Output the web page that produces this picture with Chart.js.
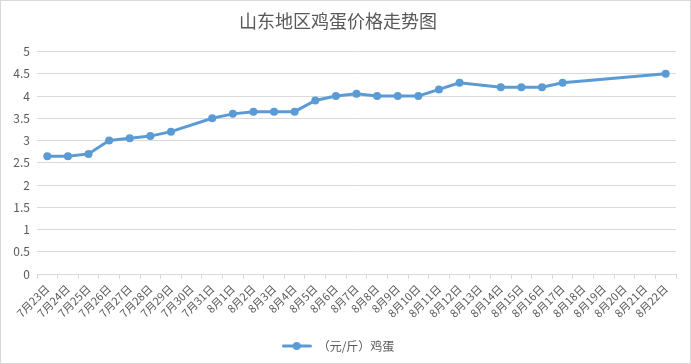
<!DOCTYPE html>
<html>
<head>
<meta charset="utf-8">
<script src="https://cdn.jsdelivr.net/npm/chart.js@4/dist/chart.umd.min.js"></script>
<style>
html,body{margin:0;padding:0;background:#fff;}
#wrap{width:691px;height:364px;position:relative;}
</style>
</head>
<body>
<div id="wrap"><canvas id="c" width="691" height="364"></canvas></div>
<script>
const chartTitle = '山东地区鸡蛋价格走势图';
const seriesName = '（元/斤）鸡蛋';
const categories = ['7月23日','7月24日','7月25日','7月26日','7月27日','7月28日','7月29日','7月30日','7月31日',
  '8月1日','8月2日','8月3日','8月4日','8月5日','8月6日','8月7日','8月8日','8月9日','8月10日','8月11日',
  '8月12日','8月13日','8月14日','8月15日','8月16日','8月17日','8月18日','8月19日','8月20日','8月21日','8月22日'];
const eggPrices = [2.65,2.65,2.7,3.0,3.05,3.1,3.2,null,3.5,
  3.6,3.65,3.65,3.65,3.9,4.0,4.05,4.0,4.0,4.0,4.15,
  4.3,null,4.2,4.2,4.2,4.3,null,null,null,null,4.5];
const yTicks = [0,0.5,1,1.5,2,2.5,3,3.5,4,4.5,5];

const BLUE = '#5b9bd5';
const TEXT = '#595959';
const GRID = '#d9d9d9';
const FONT = '"Noto Sans CJK SC", "Microsoft YaHei", sans-serif';

// legend marker: line with dot
const mk = document.createElement('canvas');
mk.width = 30; mk.height = 10;
(function(){
  const g = mk.getContext('2d');
  g.strokeStyle = BLUE; g.lineWidth = 3; g.lineCap = 'round';
  g.beginPath(); g.moveTo(1.5,5); g.lineTo(28.5,5); g.stroke();
  g.fillStyle = BLUE; g.beginPath(); g.arc(15,5,4,0,Math.PI*2); g.fill();
})();

const borderPlugin = {
  id: 'outerBorder',
  afterDraw(chart){
    const ctx = chart.ctx;
    ctx.save();
    ctx.strokeStyle = GRID; ctx.lineWidth = 1;
    ctx.strokeRect(0.5,0.5,chart.width-1,chart.height-1);
    ctx.restore();
  }
};

new Chart(document.getElementById('c'), {
  type: 'line',
  data: {
    labels: categories,
    datasets: [{
      label: seriesName,
      data: eggPrices,
      borderColor: BLUE,
      backgroundColor: BLUE,
      borderWidth: 3,
      pointRadius: 4,
      pointHoverRadius: 4,
      pointBackgroundColor: BLUE,
      pointBorderColor: BLUE,
      pointBorderWidth: 0,
      spanGaps: true,
      tension: 0
    }]
  },
  options: {
    responsive: false,
    animation: false,
    devicePixelRatio: 1,
    layout: { padding: { left: 0, right: 15, top: 0, bottom: 2 } },
    plugins: {
      title: {
        display: true, text: chartTitle, color: TEXT,
        font: { family: FONT, size: 18, weight: 'normal' },
        padding: { top: 10, bottom: 20 }
      },
      legend: {
        display: true, position: 'bottom',
        labels: {
          color: TEXT, font: { family: FONT, size: 12 },
          usePointStyle: true, pointStyle: mk, pointStyleWidth: 30, padding: 10
        }
      },
      tooltip: { enabled: false }
    },
    scales: {
      x: {
        type: 'category',
        offset: true,
        grid: { display: true, offset: true, drawOnChartArea: false, drawTicks: true, tickLength: 5, color: GRID },
        border: { display: true, color: GRID },
        ticks: { color: TEXT, font: { family: FONT, size: 11 }, maxRotation: 45, minRotation: 45, autoSkip: false, padding: 3 },
        afterFit(scale){ scale.height = 56; }
      },
      y: {
        min: 0, max: 5,
        afterBuildTicks(scale){ scale.ticks = yTicks.map(v => ({ value: v })); },
        grid: { color: GRID, drawTicks: false },
        border: { display: false },
        ticks: { color: TEXT, font: { family: FONT, size: 12 }, padding: 7, callback: v => String(v) },
        afterFit(scale){ scale.width = 37; }
      }
    }
  },
  plugins: [borderPlugin]
});
</script>
</body>
</html>
